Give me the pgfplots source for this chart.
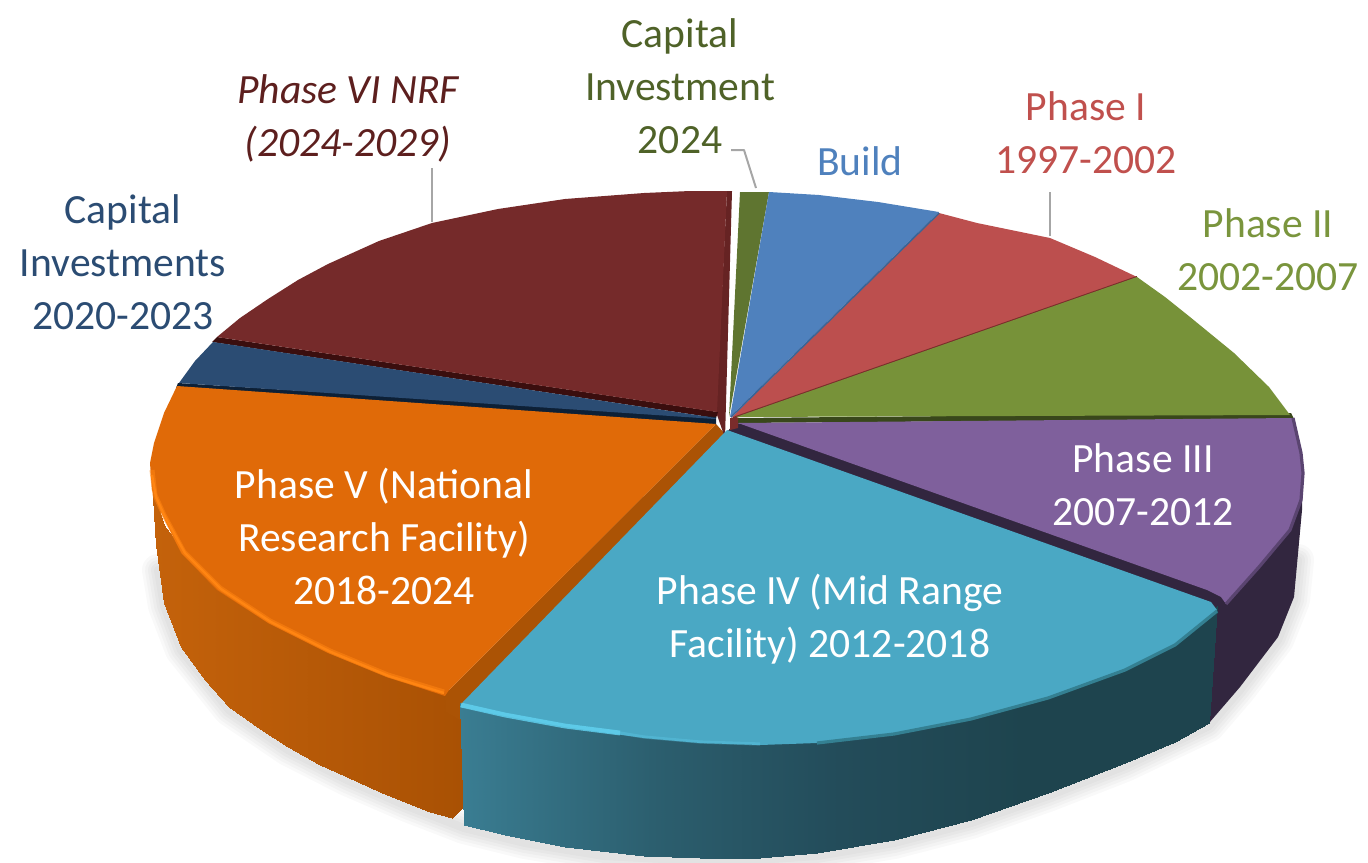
\documentclass[border=0pt]{standalone}
\usepackage{fontspec}
\setmainfont{Carlito}
\usepackage{pgfplots}
\pgfplotsset{compat=1.18}
\usepackage{pgfplotstable}

\definecolor{cRed}{RGB}{117,42,42}
\definecolor{cRedWall}{RGB}{102,35,35}
\definecolor{cRedEdge}{RGB}{58,14,14}
\definecolor{cNavy}{RGB}{43,76,115}
\definecolor{cNavyEdge}{RGB}{13,32,54}
\definecolor{cOrange}{RGB}{224,106,8}
\definecolor{cOrangeHi}{RGB}{255,133,18}
\definecolor{cOrangeWall}{RGB}{171,83,5}
\definecolor{cTeal}{RGB}{74,168,196}
\definecolor{cTealHi}{RGB}{98,211,242}
\definecolor{cTealBlur}{RGB}{52,128,146}
\definecolor{cPurple}{RGB}{127,96,156}
\definecolor{cPurpleSide}{RGB}{50,38,63}
\definecolor{cPurpleBlur}{RGB}{90,68,112}
\definecolor{cGreen}{RGB}{119,146,57}
\definecolor{cGreenEdge}{RGB}{57,71,27}
\definecolor{cBrick}{RGB}{188,79,78}
\definecolor{cBrickEdge}{RGB}{122,44,43}
\definecolor{cBlue}{RGB}{79,129,189}
\definecolor{cBlueEdge}{RGB}{59,100,150}
\definecolor{cMoss}{RGB}{95,117,48}
\definecolor{tMoss}{RGB}{79,98,40}
\definecolor{tBrick}{RGB}{192,80,77}
\definecolor{tGreen}{RGB}{122,149,61}
\definecolor{cLeader}{RGB}{166,166,166}

% side walls: top and bottom of each column, c is the colour position
\pgfplotstableread{
x y c
152 480 0
152 482 0
156 500 0.01
156 545 0.01
164 525 0.04
164 603 0.04
181 548 0.09
181 647 0.09
205 573 0.17
205 680 0.17
229 592 0.25
229 707 0.25
260 613 0.35
260 729 0.35
288 628 0.44
288 747 0.44
320 645 0.54
320 765 0.54
347 656 0.63
347 777 0.63
380 669 0.73
380 792 0.73
407 678 0.82
407 803 0.82
430 685 0.90
430 812 0.90
452 691 0.97
452 818 0.97
462 695 1
462 808 1
}\sideorange

\pgfplotstableread{
x y c
460 703 0
464 825 0
505 712 0.06
505 835 0.06
565 723 0.14
565 847 0.14
644 734 0.24
644 856 0.24
700 739 0.32
700 858 0.32
760 741 0.40
760 858 0.40
817 739 0.47
817 853 0.47
894 730 0.57
894 840 0.57
971 715 0.68
971 820 0.68
1048 694 0.78
1048 793 0.78
1125 666 0.88
1125 763 0.88
1175 640 0.94
1175 742 0.94
1217 606 1
1209 723 1
}\sideteal

\begin{document}
\begin{tikzpicture}
\useasboundingbox (0,0) rectangle (684pt,431pt);
\begin{axis}[
    scale only axis,
    width=684pt,
    height=431pt,
    xmin=0, xmax=1368,
    ymin=0, ymax=862,
    y dir=reverse,
    hide axis,
    clip=false,
    point meta min=0,
    point meta max=1,
    line join=round,
    colormap={orangeside}{rgb255=(196,98,11) rgb255=(169,81,4)},
    colormap={tealside}{rgb255=(58,125,146) rgb255=(44,95,111) rgb255=(35,76,90) rgb255=(30,68,78) rgb255=(30,68,78)},
    nodes={font=\fontsize{20.8}{26.5}\selectfont, align=center, inner sep=0pt},
]

% --- soft shadow under the pie ---
\pgfplotsinvokeforeach{16,13,10,7,4}{
\addplot[draw=black, opacity=0.025, line width=#1pt, line cap=round, forget plot] coordinates {
    (158,570) (164,606) (181,650) (229,710) (288,750) (347,780) (407,806) (464,828)
    (525,843) (604,856) (683,860) (740,861) (817,856) (894,843) (971,823) (1048,796)
    (1125,766) (1209,726) (1240,690) (1278,640) (1294,600) (1298,560)
};
}

% --- purple side and its cut face ---
\addplot[fill=cPurpleSide, draw=none] coordinates {
    (735,423) (1303,465) (1302,510) (1294,597) (1278,637) (1240,687) (1209,723)
    (1200,620) (727,432)
} -- cycle;

% --- orange and teal side walls ---
\addplot[surf, shader=interp, mesh/cols=2, colormap name=orangeside, point meta=\thisrow{c}]
    table[x=x, y=y] {\sideorange};
\addplot[fill=cOrangeWall, draw=none] coordinates {
    (716,424) (725,434) (461,712) (460,720) (446,712) (445,697) (449,690)
} -- cycle;
\addplot[surf, shader=interp, mesh/cols=2, colormap name=tealside, point meta=\thisrow{c}]
    table[x=x, y=y] {\sideteal};

% --- dark red slice, wall and edge ---
\addplot[fill=cRedWall, draw=none] coordinates {
    (727,191) (732,191) (725,438) (716,412)
} -- cycle;
\addplot[fill=cRedEdge, draw=none] coordinates {
    (217,337) (212,342) (716,418) (718,412)
} -- cycle;
\addplot[fill=cRed, draw=none] coordinates {
    (217,337) (240,318) (268,299) (298,280) (328,264) (379,241) (432,223) (498,209)
    (565,199) (644,193) (690,191) (727,191) (717,412)
} -- cycle;

% --- navy slice ---
\addplot[fill=cNavyEdge, draw=none] coordinates {
    (178,383) (176,388) (716,425) (716,417)
} -- cycle;
\addplot[fill=cNavy, draw=none] coordinates {
    (213,342) (195,361) (179,383) (715,419) (716,418)
} -- cycle;

% --- orange slice ---
\addplot[fill=cOrange, draw=none] coordinates {
    (177,386) (164,413) (154,443) (150,463) (152,490) (160,510) (181,553) (217,590)
    (268,623) (328,653) (387,677) (445,696) (449,690) (716,424)
} -- cycle;
\addplot[draw=cOrangeHi, line width=2.5pt, opacity=0.55] coordinates {
    (152,470) (155,495) (164,515) (184,552) (220,588) (270,621) (330,651) (388,675) (444,692)
};
\addplot[draw=cOrangeHi, line width=1.2pt] coordinates {
    (152,475) (156,497) (165,517) (185,553) (221,589) (271,622) (331,652) (389,676) (444,693)
};

% --- small slices on the top right ---
\addplot[fill=cMoss, draw=none] coordinates {
    (740,192) (769,192) (729,417)
} -- cycle;
\addplot[fill=cBlue, draw=none] coordinates {
    (769,192) (819,195) (878,202) (939,212) (730,417)
} -- cycle;
\addplot[fill=cBrick, draw=none] coordinates {
    (939,213) (977,223) (1050,238) (1095,257) (1137,277) (731,418)
} -- cycle;
\addplot[draw=cBlueEdge, line width=0.8pt] coordinates {(939,213) (731,417)};
\addplot[draw=cBrickEdge, line width=1pt] coordinates {(1137,277) (733,418)};
\addplot[fill=cGreenEdge, draw=none] coordinates {
    (735,418) (1291,413) (1294,419) (735,423)
} -- cycle;
\addplot[fill=cGreen, draw=none] coordinates {
    (736,417) (1137,277) (1165,297) (1190,317) (1234,353) (1269,387) (1290,415)
} -- cycle;

% --- purple slice ---
\addplot[fill=cPurple, draw=none] coordinates {
    (738,423) (1293,418) (1301,453) (1303,473) (1301,500) (1290,530) (1259,567)
    (1226,604) (1221,597) (1207,590)
} -- cycle;
\addplot[draw=cPurpleBlur, line width=1.6pt] coordinates {
    (1293,418) (1301,453) (1303,473) (1301,500) (1290,530) (1259,567) (1226,604)
};
\addplot[fill=cBrickEdge, draw=none] coordinates {
    (730,418) (738,418) (738,428) (730,430)
} -- cycle;

% --- teal slice ---
\addplot[fill=cTeal, draw=none] coordinates {
    (727,430) (1211,602) (1217,610) (1175,645) (1125,670) (1048,698) (971,719) (894,734)
    (817,743) (760,745) (700,743) (644,738) (565,727) (505,716) (460,707) (462,703)
} -- cycle;
\addplot[draw=cTealHi, line width=2.4pt, opacity=0.8] coordinates {
    (461,705) (505,715) (565,726) (620,733)
};
\addplot[draw=cTealHi, line width=1.6pt, opacity=0.3] coordinates {
    (620,733) (644,737) (700,742) (760,744)
};
\addplot[draw=cTealBlur, line width=1.6pt] coordinates {
    (817,743) (894,734) (971,719) (1048,698) (1125,670) (1175,645) (1217,611)
};

% --- leader lines ---
\addplot[draw=cLeader, line width=1pt] coordinates {(432,168) (432,222)};
\addplot[draw=cLeader, line width=1pt] coordinates {(1050,192) (1050,236)};
\addplot[draw=cLeader, line width=1pt] coordinates {(731,150) (744,150) (756,188)};

% --- labels ---
\node[text=tMoss] at (axis cs:680,86) {Capital\\Investment\\2024};
\node[text=cRedEdge!45!cBrickEdge] at (axis cs:348,118) {\itshape Phase VI NRF\\\itshape (2024-2029)};
\node[text=cNavy] at (axis cs:123,262) {Capital\\Investments\\2020-2023};
\node[text=cBlue] at (axis cs:860,161) {Build};
\node[text=tBrick] at (axis cs:1086,133) {Phase I\\1997-2002};
\node[text=tGreen] at (axis cs:1268,250) {Phase II\\2002-2007};
\node[text=white] at (axis cs:1143,485) {Phase III\\2007-2012};
\node[text=white] at (axis cs:384,536) {Phase V (National\\Research Facility)\\2018-2024};
\node[text=white] at (axis cs:830,619) {Phase IV (Mid Range\\Facility) 2012-2018};

\end{axis}
\end{tikzpicture}
\end{document}
